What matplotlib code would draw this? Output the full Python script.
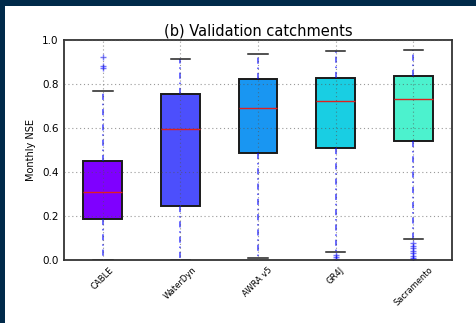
import matplotlib
matplotlib.use("Agg")
import matplotlib.pyplot as plt
from matplotlib.patches import Rectangle

# Monthly NSE summary statistics per model
models = ["CABLE", "WaterDyn", "AWRA v5", "GR4J", "Sacramento"]
q1 = [0.186, 0.245, 0.486, 0.509, 0.541]
medians = [0.31, 0.594, 0.69, 0.724, 0.732]
q3 = [0.45, 0.756, 0.823, 0.827, 0.838]
whisker_low = [0.0, 0.0, 0.008, 0.036, 0.095]
whisker_high = [0.77, 0.915, 0.936, 0.95, 0.955]
outliers = [
    [0.925, 0.882, 0.874],
    [],
    [],
    [0.022, 0.014, 0.006],
    [0.078, 0.064, 0.055, 0.042, 0.032, 0.02, 0.01, 0.003],
]
box_colors = ["#7f00ff", "#4c4ffc", "#1996f2", "#19cee3", "#4cf2ce"]

stats = []
for i, name in enumerate(models):
    stats.append(dict(label=name, q1=q1[i], med=medians[i], q3=q3[i],
                      whislo=whisker_low[i], whishi=whisker_high[i],
                      fliers=outliers[i]))

fig = plt.figure(figsize=(4.76, 3.23), dpi=100)
fig.patch.set_facecolor("white")
# navy frame strips along the top and left edges
fig.patches.append(Rectangle((0, 1 - 6 / 323), 1, 6 / 323, transform=fig.transFigure,
                             facecolor="#002a4a", edgecolor="none", zorder=10))
fig.patches.append(Rectangle((0, 0), 5 / 476, 1, transform=fig.transFigure,
                             facecolor="#002a4a", edgecolor="none", zorder=10))

ax = fig.add_axes([64 / 476, 63 / 323, 388 / 476, 220 / 323])
bp = ax.bxp(stats, patch_artist=True, widths=0.5,
            boxprops=dict(edgecolor="#1a1a1a", linewidth=1.4),
            medianprops=dict(color="#e02020", linewidth=1.0),
            whiskerprops=dict(color="blue", linestyle=(0, (4, 2.5, 1, 2.5)),
                              linewidth=1.1, alpha=0.75),
            capprops=dict(color="#222222", linewidth=1.1),
            flierprops=dict(marker="+", markeredgecolor="blue", markersize=5,
                            markeredgewidth=1.0, linestyle="none", alpha=0.55))
for patch, c in zip(bp["boxes"], box_colors):
    patch.set_facecolor(c)

ax.set_xlim(0.5, 5.5)
ax.set_ylim(0.0, 1.0)
ax.set_yticks([0.0, 0.2, 0.4, 0.6, 0.8, 1.0])
ax.set_yticklabels(["0.0", "0.2", "0.4", "0.6", "0.8", "1.0"], fontsize=7.5)
ax.set_xticks(range(1, len(models) + 1))
ax.set_xticklabels(models, rotation=45, ha="center", fontsize=6)
ax.tick_params(axis="both", length=0, pad=4)
ax.set_axisbelow(False)
ax.grid(True, color="#555555", linestyle=(0, (1, 2.5)), linewidth=0.8, alpha=0.6)
for s in ax.spines.values():
    s.set_color("#333333")
    s.set_linewidth(1.3)
ax.set_ylabel("Monthly NSE", fontsize=7)
ax.set_title("(b) Validation catchments", fontsize=10.5, pad=3)

fig.savefig("out.png", dpi=100)
